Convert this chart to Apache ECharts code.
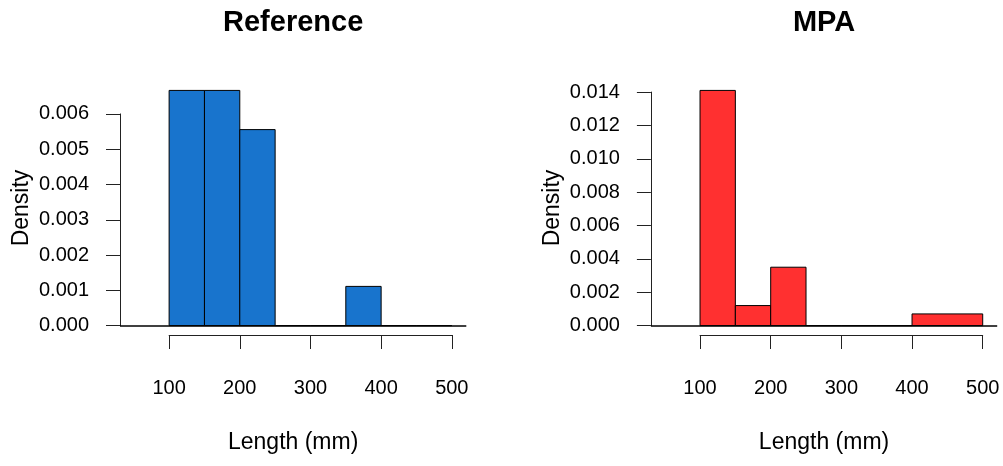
<!DOCTYPE html>
<html>
<head>
<meta charset="utf-8">
<script src="https://cdn.jsdelivr.net/npm/echarts@6/dist/echarts.min.js"></script>
<style>
  html, body { margin: 0; padding: 0; background: #ffffff; }
  #chart { width: 1003px; height: 466px; }
</style>
</head>
<body>
<div id="chart"></div>
<script>
// Histogram of fish lengths: lower break, upper break and density of each bin
const refBinLo   = [100, 150, 200, 250, 300, 350, 400, 450];
const refBinHi   = [150, 200, 250, 300, 350, 400, 450, 500];
const refDensity = [0.006667, 0.006667, 0.005556, 0, 0, 0.001111, 0, 0];

const mpaBinLo   = [100, 150, 200, 250, 300, 350, 400];
const mpaBinHi   = [150, 200, 250, 300, 350, 400, 500];
const mpaDensity = [0.0141, 0.0012, 0.0035, 0, 0, 0, 0.0007];

// Tick values drawn on the axes
const xTicks    = [100, 200, 300, 400, 500];
const refYTicks = [0, 0.001, 0.002, 0.003, 0.004, 0.005, 0.006];
const mpaYTicks = [0, 0.002, 0.004, 0.006, 0.008, 0.010, 0.012, 0.014];

const titles = ['Reference', 'MPA'];
const xLabel = 'Length (mm)';
const yLabel = 'Density';

const FONT = '"Liberation Sans", Arial, Helvetica, sans-serif';
const AXIS_COLOR = '#222';

// Plot region (R-style: data range padded by 4 %)
const X_RANGE = [30.5, 520.5];
const PLOT_TOP = 81, PLOT_H = 254, PLOT_W = 346.3;

function padRange(maxVal) {
  const ext = maxVal * 0.04;
  return [-ext, maxVal + ext];
}

const grids = [], xAxes = [], yAxes = [], series = [], graphics = [];

function addPanel(left, binLo, binHi, dens, yTicks, color, title) {
  const yRange = padRange(Math.max.apply(null, dens));
  const sx = PLOT_W / (X_RANGE[1] - X_RANGE[0]);
  const sy = PLOT_H / (yRange[1] - yRange[0]);
  const g0 = grids.length;

  // data grid (bars, baseline, axis titles)
  grids.push({ left: left, top: PLOT_TOP, width: PLOT_W, height: PLOT_H });
  xAxes.push({
    gridIndex: g0, type: 'value', min: X_RANGE[0], max: X_RANGE[1],
    axisLine: { show: false }, axisTick: { show: false }, axisLabel: { show: false },
    splitLine: { show: false },
    name: xLabel, nameLocation: 'middle', nameGap: 96,
    nameTextStyle: { fontSize: 23, fontFamily: FONT, color: '#000' }
  });
  yAxes.push({
    gridIndex: g0, type: 'value', min: yRange[0], max: yRange[1],
    axisLine: { show: false }, axisTick: { show: false }, axisLabel: { show: false },
    splitLine: { show: false },
    name: yLabel, nameLocation: 'middle', nameGap: 87,
    nameTextStyle: { fontSize: 23, fontFamily: FONT, color: '#000' }
  });

  // x tick axis spanning only the tick range
  const xt0 = xTicks[0], xt1 = xTicks[xTicks.length - 1];
  grids.push({
    left: left + (xt0 - X_RANGE[0]) * sx, width: (xt1 - xt0) * sx,
    top: PLOT_TOP + PLOT_H - 1, height: 1
  });
  xAxes.push({
    gridIndex: g0 + 1, type: 'value', min: xt0, max: xt1, interval: xTicks[1] - xTicks[0],
    axisLine: { show: true, lineStyle: { color: AXIS_COLOR, width: 1 } },
    axisTick: { show: true, length: 14, lineStyle: { color: AXIS_COLOR, width: 1 } },
    axisLabel: { margin: 43, fontSize: 20, fontFamily: FONT, color: '#000' },
    splitLine: { show: false }
  });
  yAxes.push({ gridIndex: g0 + 1, type: 'value', show: false });

  // y tick axis spanning only the tick range
  const yt0 = yTicks[0], yt1 = yTicks[yTicks.length - 1];
  grids.push({
    left: left, width: 1,
    top: PLOT_TOP + (yRange[1] - yt1) * sy, height: (yt1 - yt0) * sy
  });
  xAxes.push({ gridIndex: g0 + 2, type: 'value', show: false });
  yAxes.push({
    gridIndex: g0 + 2, type: 'value', position: 'left',
    min: yt0, max: yt1, interval: yTicks[1] - yTicks[0],
    axisLine: { show: true, lineStyle: { color: AXIS_COLOR, width: 1 } },
    axisTick: { show: true, length: 14, lineStyle: { color: AXIS_COLOR, width: 1 } },
    axisLabel: { margin: 31, fontSize: 20, fontFamily: FONT, color: '#000',
                 formatter: v => v.toFixed(3) },
    splitLine: { show: false }
  });

  // histogram bars
  series.push({
    type: 'custom',
    xAxisIndex: g0, yAxisIndex: g0,
    data: binLo.map((lo, i) => [lo, binHi[i], dens[i]]),
    encode: { x: [0, 1], y: 2 },
    renderItem: function (params, api) {
      const topLeft = api.coord([api.value(0), api.value(2)]);
      const botRight = api.coord([api.value(1), 0]);
      return {
        type: 'rect',
        shape: { x: topLeft[0], y: topLeft[1],
                 width: botRight[0] - topLeft[0], height: botRight[1] - topLeft[1] },
        style: { fill: color, stroke: '#000', lineWidth: 1 }
      };
    },
    markLine: {
      silent: true, symbol: ['none', 'none'], animation: false,
      label: { show: false },
      lineStyle: { color: '#000', width: 1.6, type: 'solid' },
      data: [{ yAxis: 0 }]
    },
    z: 2
  });

  // panel title
  graphics.push({
    type: 'text', x: left + PLOT_W / 2, y: 22.5,
    style: { text: title, textAlign: 'center', textVerticalAlign: 'middle',
             font: 'bold 29px ' + FONT, fill: '#000' }
  });
}

addPanel(120, refBinLo, refBinHi, refDensity, refYTicks, '#1874CD', titles[0]);
addPanel(650.9, mpaBinLo, mpaBinHi, mpaDensity, mpaYTicks, '#FF3030', titles[1]);

const chart = echarts.init(document.getElementById('chart'), null, { renderer: 'canvas' });
chart.setOption({
  animation: false,
  backgroundColor: '#ffffff',
  grid: grids,
  xAxis: xAxes,
  yAxis: yAxes,
  series: series,
  graphic: graphics
});
</script>
</body>
</html>
